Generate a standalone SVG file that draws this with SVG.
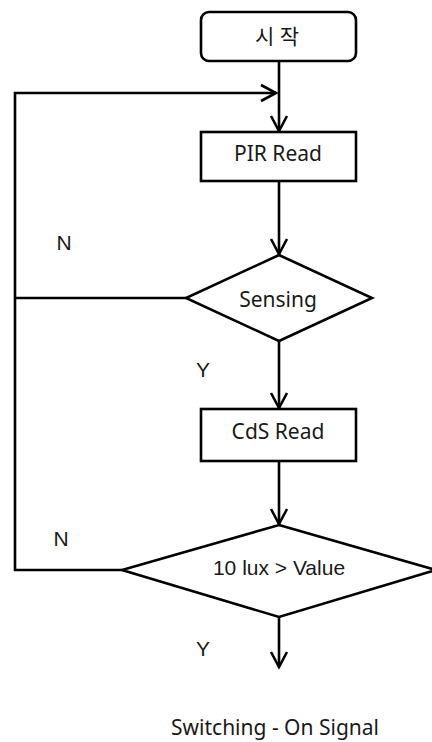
<svg xmlns="http://www.w3.org/2000/svg" width="432" height="742" viewBox="0 0 432 742">
  <style>
    .shape { fill: #fff; stroke: #000; stroke-width: 2.6; }
    .line { fill: none; stroke: #000; stroke-width: 2.6; }
    .lbl { font-family: "Noto Sans", "Noto Sans CJK KR", sans-serif; font-size: 21px; fill: #1a1a1a; text-anchor: middle; }
    .lbl2 { font-family: "Liberation Sans", Arial, sans-serif; font-size: 21px; fill: #1a1a1a; text-anchor: middle; }
  </style>
  <defs>
    <marker id="arrow" markerUnits="userSpaceOnUse" markerWidth="20" markerHeight="20" refX="16" refY="10" orient="auto">
      <path d="M1,2 L16,10 L1,18" fill="none" stroke="#000" stroke-width="2.6"/>
    </marker>
  </defs>
  <rect width="432" height="742" fill="#fff"/>

  <g id="connectors">
    <line class="line" x1="279" y1="61" x2="279" y2="131" marker-end="url(#arrow)"/>
    <line class="line" x1="279" y1="181" x2="279" y2="254" marker-end="url(#arrow)"/>
    <line class="line" x1="279" y1="341" x2="279" y2="408" marker-end="url(#arrow)"/>
    <line class="line" x1="279" y1="461" x2="279" y2="524" marker-end="url(#arrow)"/>
    <line class="line" x1="279" y1="617" x2="279" y2="667" marker-end="url(#arrow)"/>
    <polyline class="line" points="186,298 15,298"/>
    <polyline class="line" points="122,570 15,570 15,93 276,93" marker-end="url(#arrow)"/>
    <text class="lbl2" x="64" y="250">N</text>
    <text class="lbl2" x="203" y="377">Y</text>
    <text class="lbl2" x="61" y="546">N</text>
    <text class="lbl2" x="203" y="656">Y</text>
  </g>

  <g id="start">
    <rect class="shape" x="201" y="12" width="155" height="49" rx="8"/>
    <text class="lbl" x="277" y="44">시 작</text>
  </g>
  <g id="pir-read">
    <rect class="shape" x="201" y="132" width="155" height="49"/>
    <text class="lbl" x="278" y="161">PIR Read</text>
  </g>
  <g id="sensing">
    <polygon class="shape" points="279,255 372,298 279,341 186,298"/>
    <text class="lbl" x="278" y="307">Sensing</text>
  </g>
  <g id="cds-read">
    <rect class="shape" x="201" y="409" width="155" height="52"/>
    <text class="lbl" x="278" y="439">CdS Read</text>
  </g>
  <g id="lux-check">
    <polygon class="shape" points="279,525 436,570 279,617 122,570"/>
    <text class="lbl2" x="279" y="575">10 lux &gt; Value</text>
  </g>
  <g id="switching">
    <text class="lbl" x="275" y="735">Switching - On Signal</text>
  </g>
</svg>
